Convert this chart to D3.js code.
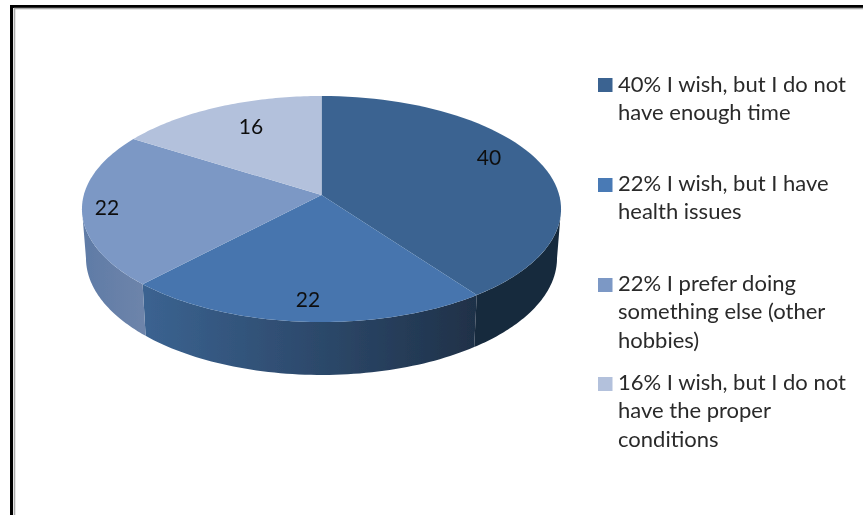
<!DOCTYPE html>
<html><head><meta charset="utf-8">
<script src="https://cdnjs.cloudflare.com/ajax/libs/d3/7.8.5/d3.min.js"></script>
<style>html,body{margin:0;padding:0;background:#fff}svg{display:block}text{font-family:Lato,"Open Sans",sans-serif}</style>
</head><body><svg id="c" width="863" height="515"></svg>
<script>
const values = [40, 22, 22, 16];
const legendLines = [
  ["40% I wish, but I do not", "have enough time"],
  ["22% I wish, but I have", "health issues"],
  ["22% I prefer doing", "something else (other", "hobbies)"],
  ["16% I wish, but I do not", "have the proper", "conditions"]
];
const topColors = ["#3b6491", "#4675ae", "#7b98c5", "#b3c1dc"];
const legendColors = ["#3b6491", "#4a7ab5", "#7b98c5", "#b3c1dc"];
const sideStops = [["#172a3e", "#172a3e"], ["#3b6391", "#1f3148"], ["#5f7ba6", "#6d84aa"], ["#b3c1dc", "#b3c1dc"]];
const labelPos = [[489, 158], [308, 300], [107, 208], [251, 127]];
const legendRows = [[85, 113], [184, 212], [284, 312, 341], [383, 411, 440]];
const markerY = [78, 178, 278, 377];

const svg = d3.select("#c");
const defs = svg.append("defs");
defs.append("filter").attr("id", "soft").attr("x", 0).attr("y", 0).attr("width", 1).attr("height", 1)
  .attr("filterUnits", "userSpaceOnUse").attr("width", 863).attr("height", 515)
  .append("feGaussianBlur").attr("stdDeviation", 0.4);
const root = svg.append("g").attr("filter", "url(#soft)");
root.append("rect").attr("width", 863).attr("height", 515).attr("fill", "#fff");

const k = -0.1239;
const project = (a, A, B, cx, cy) => {
  const u = Math.sin(a), v = -Math.cos(a), w = 1 + k * v;
  return [cx + A * u / w, cy + B * v / w];
};
const topRim = a => project(a, 237.7, 111.3, 321.5, 195);
const lowRim = a => project(a, 233.7, 115, 321.5, 243.7);
const arcs = d3.pie().sort(null)(values);
const line = d3.line();
const range = (a0, a1) => d3.range(0, 61).map(i => a0 + (a1 - a0) * i / 60);
const frontFrom = Math.acos(k), frontTo = 2 * Math.PI - frontFrom;

arcs.forEach((d, i) => {
  const xs = range(d.startAngle, d.endAngle).map(a => topRim(a)[0]);
  const g = defs.append("linearGradient").attr("id", "s" + i).attr("gradientUnits", "userSpaceOnUse")
    .attr("x1", d3.min(xs)).attr("x2", d3.max(xs)).attr("y1", 0).attr("y2", 0);
  g.append("stop").attr("offset", 0).attr("stop-color", sideStops[i][0]);
  g.append("stop").attr("offset", 1).attr("stop-color", sideStops[i][1]);
});

// frame
root.append("rect").attr("x", 11.5).attr("y", 6.5).attr("width", 900).attr("height", 600).attr("fill", "none").attr("stroke", "#000").attr("stroke-width", 3);
root.append("rect").attr("x", 14.5).attr("y", 8.5).attr("width", 900).attr("height", 600).attr("fill", "none").attr("stroke", "#aaa").attr("stroke-width", 1.6);

// side walls: only the part of each slice that faces the viewer
arcs.forEach((d, i) => {
  const a0 = Math.max(d.startAngle, frontFrom), a1 = Math.min(d.endAngle, frontTo);
  if (a1 <= a0) return;
  const as = range(a0, a1);
  root.append("path").attr("fill", `url(#s${i})`)
    .attr("d", line([...as.map(topRim), ...as.slice().reverse().map(lowRim)]) + "Z");
});
// top faces
arcs.forEach((d, i) => {
  const as = range(d.startAngle, d.endAngle);
  root.append("path").attr("fill", topColors[i])
    .attr("d", line([[321.5, 195], ...as.map(topRim)]) + "Z");
});
// labels
values.forEach((v, i) => {
  root.append("text").attr("x", labelPos[i][0]).attr("y", labelPos[i][1] + 7).attr("text-anchor", "middle")
    .attr("font-size", 21).attr("fill", "#111").text(v);
});
// legend
legendLines.forEach((ls, i) => {
  root.append("rect").attr("x", 598).attr("y", markerY[i]).attr("width", 14.5).attr("height", 14).attr("fill", legendColors[i]);
  ls.forEach((t, j) => {
    root.append("text").attr("x", 618).attr("y", legendRows[i][j] + 7).attr("font-size", 22).attr("fill", "#2a2a2a").text(t);
  });
});
</script></body></html>
